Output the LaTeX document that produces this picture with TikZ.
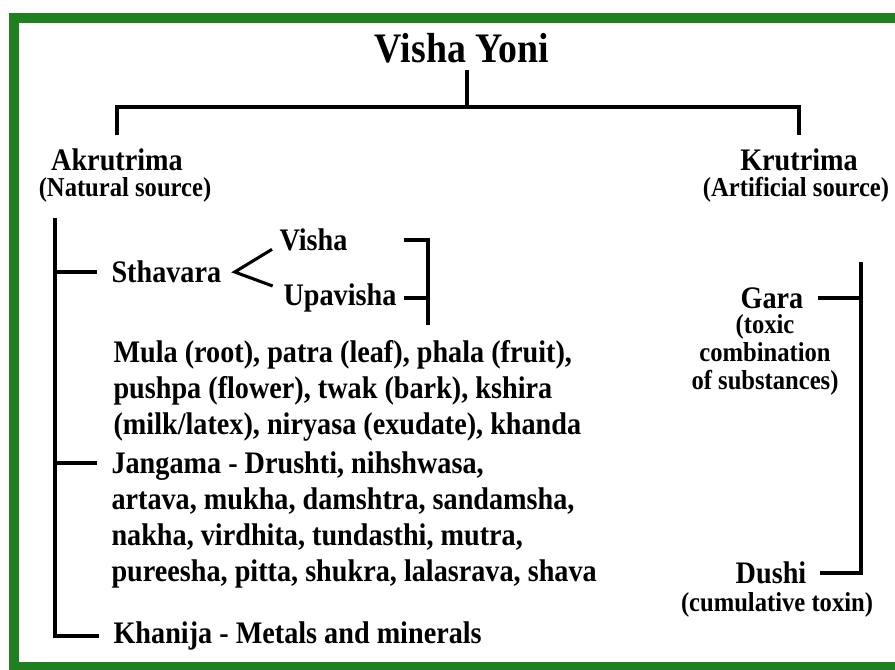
\documentclass[tikz,border=0pt]{standalone}
\usepackage{fontspec}
\setmainfont[FakeStretch=0.9]{Liberation Serif}
\usepackage{xcolor}
\definecolor{greenframe}{RGB}{30,128,30}
\usetikzlibrary{positioning}

\begin{document}
\begin{tikzpicture}[x=0.75pt,y=-0.75pt,line width=2.3pt]
        \tikzstyle{head}=[font=\bfseries\fontsize{31.5}{33}\selectfont,inner sep=0pt]
        \tikzstyle{main}=[font=\bfseries\fontsize{23.5}{27}\selectfont,inner sep=0pt]
        \tikzstyle{sub}=[font=\bfseries\fontsize{20.5}{21}\selectfont,inner sep=0pt]
        \tikzstyle{block}=[main,align=left,anchor=north west]

        \useasboundingbox (0,0) rectangle (895,669);
        \draw[greenframe,line width=7pt] (900,18) -- (14,18) -- (14,667) -- (900,667);

        \node[head] (yoni) at (462,48) {Visha Yoni};
        \node[main] (akru) at (117,160) {Akrutrima};
        \node[sub]  (natural) at (125,190) {(Natural source)};
        \node[main] (kru) at (799,160) {Krutrima};
        \node[sub]  (artificial) at (796,190) {(Artificial source)};

        \node[main,anchor=west] (stha) at (110,272) {Sthavara};
        \node[main,anchor=west] (visha) at (278,240) {Visha};
        \node[main,anchor=west] (upa) at (282,298) {Upavisha};
        \node[block] (parts) at (112,339) {Mula (root), patra (leaf), phala (fruit),\\
            pushpa (flower), twak (bark), kshira\\
            (milk/latex), niryasa (exudate), khanda};
        \node[block] (jang) at (110,450) {Jangama - Drushti, nihshwasa,\\
            artava, mukha, damshtra, sandamsha,\\
            nakha, virdhita, tundasthi, mutra,\\
            pureesha, pitta, shukra, lalasrava, shava};
        \node[main,anchor=west] (khan) at (112,636) {Khanija - Metals and minerals};

        \node[main] (gara) at (772,298) {Gara};
        \node[sub,align=center] (garanote) at (765,355) {(toxic\\combination\\of substances)};
        \node[main] (dushi) at (771,573) {Dushi};
        \node[sub] (dushinote) at (777,605) {(cumulative toxin)};

        \coordinate (root) at (467,107);
        \coordinate (ltop) at (55,218);
        \coordinate (rtop) at (861,262);
        \coordinate (brk) at (428,325);

        % top level
        \draw ([yshift=-4pt]yoni.south -| root) -- (root);
        \draw ([yshift=9pt]akru.north) |- (root) -| ([yshift=9pt]kru.north);

        % natural side
        \draw (ltop) |- ([xshift=-10pt]khan.west);
        \draw (ltop |- stha) -- ([xshift=-10pt]stha.west);
        \draw (ltop |- jang.north west) ++(0,13) -- ([xshift=-10pt,yshift=-9.75pt]jang.north west);
        \draw ([xshift=-4.5pt,yshift=-7pt]visha.west) -- ([xshift=9pt]stha.east)
              -- ([xshift=-7pt,yshift=9pt]upa.west);
        \draw ([xshift=41pt]visha.east) -| (brk);
        \draw ([xshift=4.5pt]upa.east) -- (upa.east -| brk);

        % artificial side
        \draw ([xshift=10pt]gara.east) -- (gara.east -| rtop);
        \draw (rtop) |- ([xshift=9pt]dushi.east);
\end{tikzpicture}
\end{document}
